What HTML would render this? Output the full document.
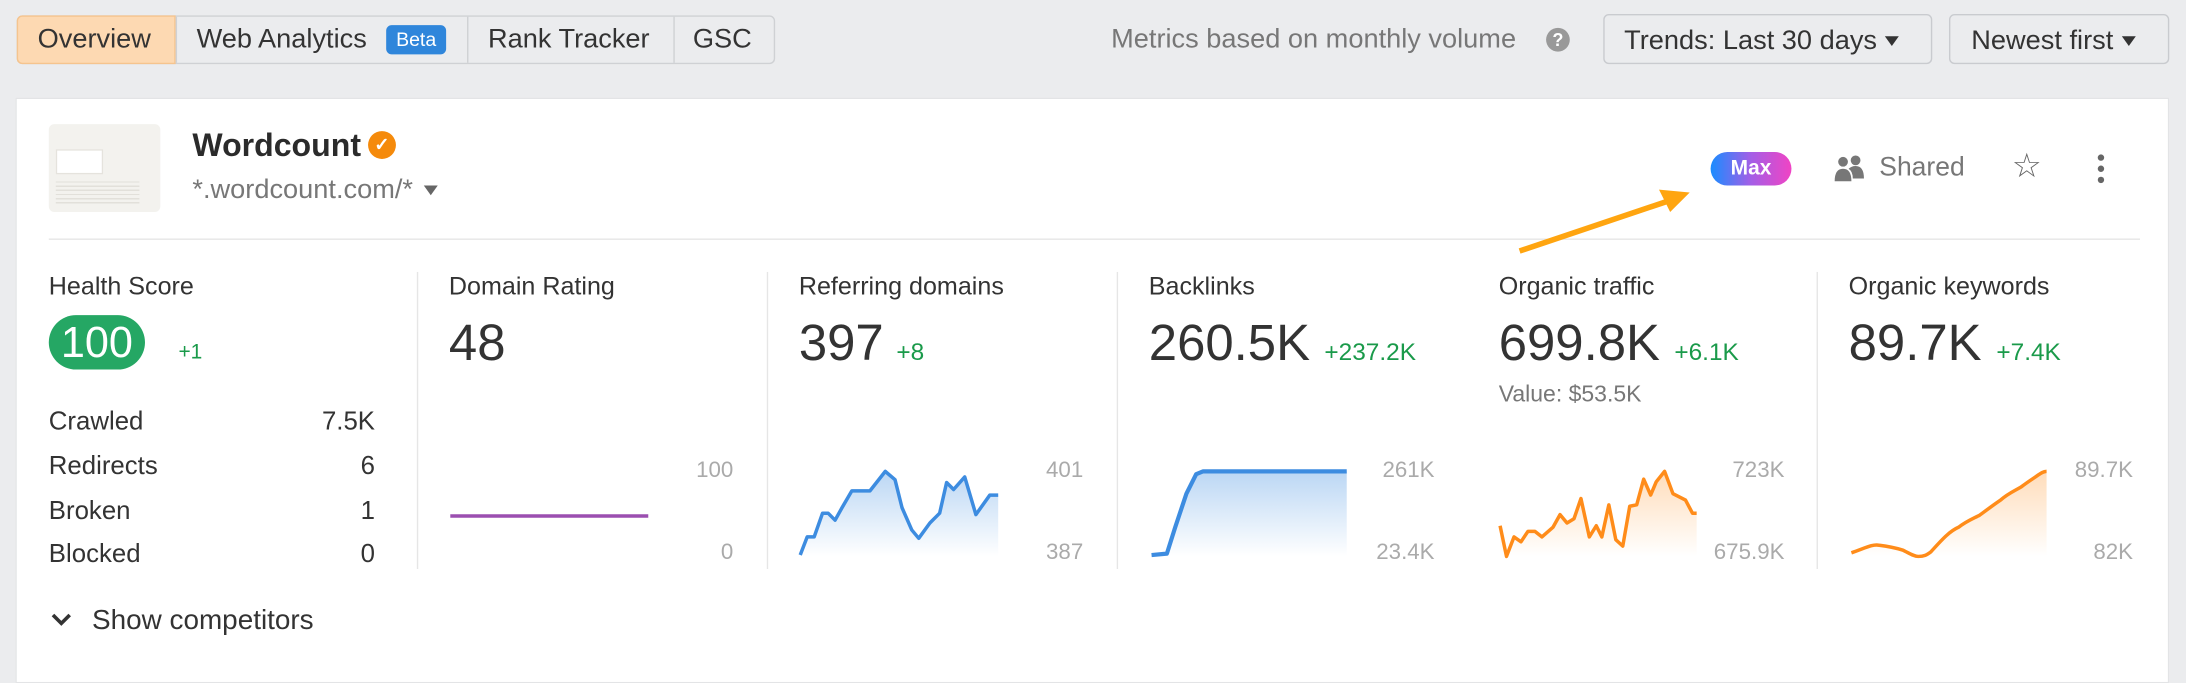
<!DOCTYPE html>
<html><head><meta charset="utf-8"><style>
html,body{margin:0;padding:0;width:2186px;height:668px;overflow:hidden;background:#ebecee}
#s{position:absolute;left:0;top:0;width:1568px;height:479px;transform:scale(1.39413,1.39457);transform-origin:0 0;font-family:"Liberation Sans",sans-serif;color:#333}
.a{position:absolute;white-space:nowrap}
.t{font-size:18px;line-height:18px;top:196px;color:#333}
.big{font-size:36.5px;line-height:36px;top:228px;color:#333}
.d{font-size:17.5px;line-height:17px;top:244px;color:#1a9a4a}
.r{font-size:18.5px;line-height:18px;color:#333}
.g{font-size:16px;line-height:16px;color:#aaa;text-align:right;width:70px}
.vl{position:absolute;top:195px;width:1px;height:213px;background:#e6e6e6}
.btn{position:absolute;top:10px;height:36px;border:1px solid #c9cbcf;border-radius:4px;background:#ebecee;font-size:19.5px;line-height:36px;box-sizing:border-box}
.tab{font-size:19.5px;line-height:19px;top:19px}
.tri{display:inline-block;width:0;height:0;border-left:5px solid transparent;border-right:5px solid transparent;border-top:7px solid #333;vertical-align:middle;margin-left:6px}
</style></head><body><div id="s">
<div class="a" style="left:12px;top:11px;width:544px;height:35px;border:1px solid #cfd1d4;border-radius:4px;box-sizing:border-box;background:#ebecee"></div>
<div class="a" style="left:12px;top:11px;width:114px;height:35px;background:#fdd9b2;border:1px solid #f5c48e;border-radius:4px 0 0 4px;box-sizing:border-box"></div>
<div class="a" style="left:335px;top:12px;width:1px;height:33px;background:#cfd1d4"></div>
<div class="a" style="left:483px;top:12px;width:1px;height:33px;background:#cfd1d4"></div>
<div class="a" style="left:126px;top:12px;width:1px;height:33px;background:#cfd1d4"></div>
<div class="a tab" style="left:27px">Overview</div>
<div class="a tab" style="left:141px">Web Analytics</div>
<div class="a" style="left:277px;top:18px;width:43px;height:21px;background:#2f86db;border-radius:4px;color:#fff;font-size:14px;line-height:21px;text-align:center">Beta</div>
<div class="a tab" style="left:350px">Rank Tracker</div>
<div class="a tab" style="left:497px">GSC</div>
<div class="a tab" style="left:797px;color:#777">Metrics based on monthly volume</div>
<div class="a" style="left:1109px;top:20px;width:17px;height:17px;border-radius:50%;background:#999;color:#fff;font-size:13px;line-height:17px;text-align:center;font-weight:bold">?</div>
<div class="btn" style="left:1150px;width:236px;padding-left:14px">Trends: Last 30 days<span class="tri"></span></div>
<div class="btn" style="left:1398px;width:158px;padding-left:15px">Newest first<span class="tri"></span></div>
<div class="a" style="left:11px;top:70px;width:1545px;height:420px;background:#fff;border:1px solid #e3e4e6;box-sizing:border-box"></div>
<div class="a" style="left:35px;top:89px;width:80px;height:63px;background:#f3f2ee;border-radius:4px"></div>
<div class="a" style="left:40px;top:107px;width:32px;height:16px;background:#fff;border:1px solid #e5e3dd"></div>
<div class="a" style="left:40px;top:128px;width:60px;height:18px;background:repeating-linear-gradient(#f3f2ee 0 2px,#e2e0da 2px 3px)"></div>
<div class="a" style="left:138px;top:93px;font-size:23px;line-height:23px;font-weight:bold;color:#2b2b2b">Wordcount</div>
<div class="a" style="left:264px;top:94px;width:20px;height:20px;border-radius:50%;background:#f58a0b;color:#fff;font-size:13px;line-height:20px;text-align:center;font-weight:bold">✓</div>
<div class="a" style="left:138px;top:127px;font-size:19.5px;line-height:19px;color:#777">*.wordcount.com/*<span class="tri" style="border-top-color:#666;margin-left:8px"></span></div>
<div class="a" style="left:1227px;top:109px;width:58px;height:24px;border-radius:12px;background:linear-gradient(90deg,#1a8cff,#a45ee6,#f044c4);color:#fff;font-weight:bold;font-size:15px;line-height:24px;text-align:center">Max</div>
<svg class="a" style="left:1315px;top:111px" width="24" height="20" viewBox="0 0 24 20"><circle cx="7" cy="5" r="3.5" fill="#777"/><circle cx="16" cy="4" r="3.5" fill="#777"/><path d="M1 19 Q1 10 7 10 Q13 10 13 19Z" fill="#777"/><path d="M11 10 Q13 8 16 8 Q22 8 22 17 L14 17 Q14 12 11 10Z" fill="#777"/></svg>
<div class="a" style="left:1348px;top:111px;font-size:19px;line-height:19px;color:#777">Shared</div>
<div class="a" style="left:1443px;top:108px;font-size:24px;line-height:24px;color:#666">☆</div>
<svg class="a" style="left:1503px;top:110px" width="8" height="22"><circle cx="4" cy="3" r="2.3" fill="#666"/><circle cx="4" cy="11" r="2.3" fill="#666"/><circle cx="4" cy="19" r="2.3" fill="#666"/></svg>
<div class="a" style="left:35px;top:171px;width:1500px;height:1px;background:#e6e6e6"></div>
<div class="vl" style="left:299px"></div><div class="vl" style="left:550px"></div><div class="vl" style="left:801px"></div><div class="vl" style="left:1303px"></div>
<div class="a t" style="left:35px">Health Score</div>
<div class="a t" style="left:322px">Domain Rating</div>
<div class="a t" style="left:573px">Referring domains</div>
<div class="a t" style="left:824px">Backlinks</div>
<div class="a t" style="left:1075px">Organic traffic</div>
<div class="a t" style="left:1326px">Organic keywords</div>
<div class="a" style="left:35px;top:226px;width:69px;height:39px;border-radius:20px;background:#25a764;color:#fff;font-size:31px;line-height:39px;text-align:center">100</div>
<div class="a d" style="left:128px;font-size:15px">+1</div>
<div class="a big" style="left:322px">48</div>
<div class="a big" style="left:573px">397</div><div class="a d" style="left:643px">+8</div>
<div class="a big" style="left:824px">260.5K</div><div class="a d" style="left:950px">+237.2K</div>
<div class="a big" style="left:1075px">699.8K</div><div class="a d" style="left:1201px">+6.1K</div>
<div class="a big" style="left:1326px">89.7K</div><div class="a d" style="left:1432px">+7.4K</div>
<div class="a" style="left:1075px;top:275px;font-size:16.5px;line-height:16px;color:#777">Value: $53.5K</div>
<div class="a r" style="left:35px;top:293px">Crawled</div><div class="a r" style="left:199px;top:293px;width:70px;text-align:right">7.5K</div>
<div class="a r" style="left:35px;top:325px">Redirects</div><div class="a r" style="left:199px;top:325px;width:70px;text-align:right">6</div>
<div class="a r" style="left:35px;top:357px">Broken</div><div class="a r" style="left:199px;top:357px;width:70px;text-align:right">1</div>
<div class="a r" style="left:35px;top:388px">Blocked</div><div class="a r" style="left:199px;top:388px;width:70px;text-align:right">0</div>
<div class="a g" style="left:456px;top:330px">100</div><div class="a g" style="left:456px;top:389px">0</div>
<div class="a g" style="left:707px;top:330px">401</div><div class="a g" style="left:707px;top:389px">387</div>
<div class="a g" style="left:959px;top:330px">261K</div><div class="a g" style="left:959px;top:389px">23.4K</div>
<div class="a g" style="left:1210px;top:330px">723K</div><div class="a g" style="left:1210px;top:389px">675.9K</div>
<div class="a g" style="left:1460px;top:330px">89.7K</div><div class="a g" style="left:1460px;top:389px">82K</div>
<svg class="a" style="left:36px;top:439px" width="16" height="12"><path d="M2 2 L8 8 L14 2" fill="none" stroke="#333" stroke-width="2.6"/></svg>
<div class="a" style="left:66px;top:435px;font-size:20px;line-height:20px">Show competitors</div>
<svg class="a" style="left:0;top:0" width="1568" height="479">
<defs>
<linearGradient id="bl" x1="0" y1="0" x2="0" y2="1"><stop offset="0" stop-color="#3d8ce0" stop-opacity=".35"/><stop offset="1" stop-color="#3d8ce0" stop-opacity="0"/></linearGradient>
<linearGradient id="or" x1="0" y1="0" x2="0" y2="1"><stop offset="0" stop-color="#ff8c1a" stop-opacity=".3"/><stop offset="1" stop-color="#ff8c1a" stop-opacity="0"/></linearGradient>
</defs>
<line x1="323" y1="370" x2="465" y2="370" stroke="#9b4fb0" stroke-width="2.5"/>
<path d="M574,398 L579,385 584,385 590,368 594,368 599,373 604,364 611,352 624,352 635,338 642,344 647,364 654,380 659,386 667,375 674,368 679,346 684,351 692,342 700,369 710,355 716,355 L716,399 574,399Z" fill="url(#bl)"/>
<path d="M574,398 L579,385 584,385 590,368 594,368 599,373 604,364 611,352 624,352 635,338 642,344 647,364 654,380 659,386 667,375 674,368 679,346 684,351 692,342 700,369 710,355 716,355" fill="none" stroke="#3d8ce0" stroke-width="2.5" stroke-linejoin="round"/>
<path d="M826,398 L837,397 843,378 851,354 858,340 863,338 966,338 L966,399 826,399Z" fill="url(#bl)"/>
<path d="M826,398 L837,397 843,378 851,354 858,340 863,338 966,338" fill="none" stroke="#3d8ce0" stroke-width="3" stroke-linejoin="round"/>
<path d="M1076,377 L1080.6,399 1086,385 1091,388.5 1096,381 1101,381 1106,385 1114,378 1119,369 1124,375 1129,372 1134,357.5 1140,385 1145,377 1149,385 1154,362 1159,387 1164,391.6 1169,363 1174,362 1179,343.6 1184,355 1188,345.5 1194,338 1200,354 1209,358.6 1214,368 1217,368" fill="none" stroke="#ff8c1a" stroke-width="2.5" stroke-linejoin="round"/>
<path d="M1076,377 L1080.6,399 1086,385 1091,388.5 1096,381 1101,381 1106,385 1114,378 1119,369 1124,375 1129,372 1134,357.5 1140,385 1145,377 1149,385 1154,362 1159,387 1164,391.6 1169,363 1174,362 1179,343.6 1184,355 1188,345.5 1194,338 1200,354 1209,358.6 1214,368 1217,368 L1217,399 1076,399Z" fill="url(#or)"/>
<path d="M1328,396.4 C1338,393 1343,390 1348,391 C1356,392 1360,393 1365,394.5 C1370,397 1373,399 1376,399 C1380,399 1382,398 1385,395.7 C1392,388 1398,381 1405,378 C1410,374 1415,372 1420,369.4 C1426,365 1430,362 1435,358.6 C1440,354 1445,352 1450,349 C1454,346 1457,344 1460,342 C1463,340 1465,338 1468,338 L1468,399 1328,399Z" fill="url(#or)"/>
<path d="M1328,396.4 C1338,393 1343,390 1348,391 C1356,392 1360,393 1365,394.5 C1370,397 1373,399 1376,399 C1380,399 1382,398 1385,395.7 C1392,388 1398,381 1405,378 C1410,374 1415,372 1420,369.4 C1426,365 1430,362 1435,358.6 C1440,354 1445,352 1450,349 C1454,346 1457,344 1460,342 C1463,340 1465,338 1468,338" fill="none" stroke="#ff8c1a" stroke-width="2.5"/>
<line x1="1090" y1="180" x2="1200" y2="143" stroke="#ffa510" stroke-width="4"/>
<path d="M1212,138 L1190,136 1198,152Z" fill="#ffa510"/>
</svg>
</div></body></html>
